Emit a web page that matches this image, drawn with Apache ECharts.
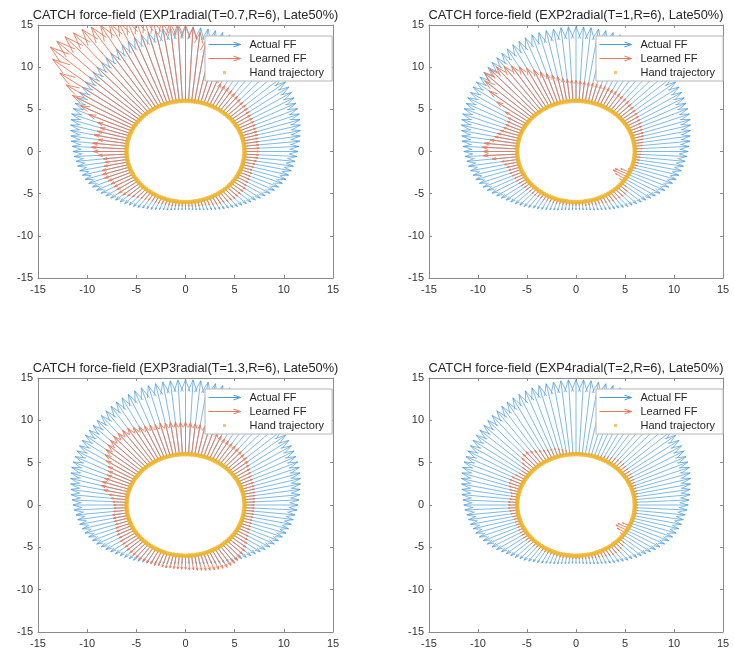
<!DOCTYPE html>
<html><head><meta charset="utf-8">
<script src="https://cdn.jsdelivr.net/npm/echarts@6/dist/echarts.min.js"></script>
<style>html,body{margin:0;padding:0;background:#fff}#c{width:734px;height:655px}</style>
</head><body><div id="c"></div>
<script>
// Arrow origins: hand trajectory sampled every 3 degrees on a circle of radius 6
const angleDeg = [
  0,3,6,9,12,15,18,21,24,27,
  30,33,36,39,42,45,48,51,54,57,
  60,63,66,69,72,75,78,81,84,87,
  90,93,96,99,102,105,108,111,114,117,
  120,123,126,129,132,135,138,141,144,147,
  150,153,156,159,162,165,168,171,174,177,
  180,183,186,189,192,195,198,201,204,207,
  210,213,216,219,222,225,228,231,234,237,
  240,243,246,249,252,255,258,261,264,267,
  270,273,276,279,282,285,288,291,294,297,
  300,303,306,309,312,315,318,321,324,327,
  330,333,336,339,342,345,348,351,354,357
];
const trajectoryRadius = 6;

// Radial force magnitude (arrow length) of the actual field, per angle
const actualFF = [
  5.45,5.55,5.7,5.8,5.95,6.1,6.25,6.4,6.5,6.6,
  6.75,6.85,7.0,7.1,7.2,7.3,7.45,7.6,7.75,7.9,
  8.05,8.2,8.3,8.45,8.55,8.6,8.65,8.7,8.75,8.8,
  8.8,8.8,8.75,8.7,8.65,8.6,8.55,8.45,8.3,8.2,
  8.05,7.9,7.75,7.6,7.45,7.3,7.2,7.1,7.0,6.85,
  6.75,6.6,6.5,6.4,6.25,6.1,5.95,5.8,5.7,5.55,
  5.45,5.35,5.2,5.1,5.0,4.85,4.75,4.55,4.35,4.15,
  3.9,3.65,3.4,3.15,2.95,2.75,2.55,2.4,2.2,2.0,
  1.85,1.7,1.55,1.4,1.3,1.2,1.1,1.0,0.95,0.9,
  0.9,0.9,0.95,1.0,1.1,1.2,1.3,1.4,1.55,1.7,
  1.85,2.0,2.2,2.4,2.55,2.75,2.95,3.15,3.4,3.65,
  3.9,4.15,4.35,4.55,4.75,4.85,5.0,5.1,5.2,5.35
];

// Learned field magnitudes, per experiment
const learnedEXP1 = [
  1.5,1.5,1.5,1.5,1.55,1.6,1.65,1.7,1.75,1.8,
  1.85,1.9,2.0,2.1,2.2,2.25,2.3,2.4,2.5,2.6,
  2.7,2.75,2.8,3.3,4.2,5.2,6.3,7.3,8.2,8.7,
  9.0,9.2,9.4,9.7,10.0,10.3,10.5,10.7,10.9,11.1,
  11.3,11.6,11.9,12.1,12.3,12.5,12.5,11.4,9.8,8.5,
  7.3,6.0,4.8,3.6,3.1,3.3,3.5,3.0,3.5,3.6,
  3.4,2.9,2.4,2.3,2.5,2.8,2.9,2.8,2.6,2.5,
  2.4,2.3,2.4,2.2,1.9,1.6,1.35,1.15,1.0,0.9,
  0.8,0.75,0.7,0.65,0.6,0.6,0.6,0.55,0.5,0.5,
  0.5,0.5,0.55,0.6,0.6,0.65,0.7,0.8,0.9,1.0,
  1.1,1.2,1.3,1.4,1.5,1.5,1.5,1.5,1.5,1.4,
  1.3,1.3,1.2,1.2,1.1,1.15,1.2,1.3,1.4,1.45
];
const learnedEXP2 = [
  0.7,0.8,0.85,0.9,1.0,1.1,1.2,1.25,1.35,1.45,
  1.5,1.6,1.7,1.75,1.85,1.9,2.0,2.05,2.1,2.15,
  2.2,2.2,2.25,2.25,2.25,2.25,2.3,2.3,2.35,2.4,
  2.45,2.5,2.6,2.8,3.1,3.4,3.7,4.1,4.6,5.1,
  5.6,6.1,6.5,6.9,7.1,7.2,6.5,5.4,4.0,2.6,
  2.0,1.9,1.8,1.9,2.1,2.3,2.5,2.9,3.4,3.6,
  3.5,3.5,2.6,1.7,1.5,1.3,1.2,1.2,1.1,1.0,
  1.0,0.9,0.9,0.8,0.8,0.7,0.7,0.7,0.6,0.6,
  0.6,0.5,0.5,0.5,0.5,0.4,0.4,0.4,0.4,0.4,
  0.4,0.4,0.4,0.5,0.5,0.5,0.6,0.6,0.7,0.8,
  0.9,1.0,1.0,1.1,1.1,1.1,1.0,0.6,-0.5,-1.2,
  -1.6,-1.5,-1.0,-0.3,0.4,0.5,0.5,0.55,0.6,0.65
];
const learnedEXP3 = [
  1.0,1.05,1.1,1.15,1.2,1.25,1.3,1.4,1.45,1.5,
  1.65,1.8,2.0,2.2,2.35,2.4,2.5,2.55,2.6,2.65,
  2.7,2.75,2.9,3.1,3.3,3.4,3.5,3.6,3.7,3.75,
  3.8,3.8,3.85,3.9,3.9,4.0,4.0,4.1,4.2,4.4,
  4.6,4.8,4.9,4.9,4.9,4.8,4.6,4.4,4.1,3.6,
  3.1,2.8,2.7,2.8,2.9,2.9,2.5,1.9,1.6,1.4,
  1.3,1.3,1.4,1.5,1.5,1.5,1.5,1.6,1.7,1.8,
  1.8,1.9,1.9,1.9,2.0,2.0,2.0,2.0,2.0,1.9,
  1.9,1.8,1.8,1.7,1.7,1.7,1.6,1.6,1.6,1.6,
  1.6,1.7,1.7,1.8,1.9,2.0,2.1,2.2,2.3,2.4,
  2.5,2.5,2.5,2.4,2.3,2.2,2.1,1.9,1.7,1.5,
  1.35,1.25,1.15,1.1,1.1,1.0,1.0,1.0,1.0,1.0
];
const learnedEXP4 = [
  0.3,0.3,0.3,0.35,0.4,0.4,0.45,0.5,0.55,0.6,
  0.65,0.7,0.75,0.8,0.85,0.9,0.9,0.85,0.8,0.7,
  0.6,0.5,0.4,0.3,0.25,0.2,0.2,0.2,0.2,0.2,
  0.2,0.25,0.3,0.5,0.7,0.9,1.0,1.1,1.2,1.3,
  1.5,1.7,1.9,2.1,2.1,1.8,1.4,1.0,0.8,0.9,
  1.1,1.3,1.4,1.3,1.2,1.0,0.8,0.7,0.8,0.9,
  0.9,0.9,0.8,0.7,0.6,0.55,0.5,0.5,0.5,0.55,
  0.6,0.6,0.6,0.55,0.5,0.5,0.45,0.45,0.4,0.4,
  0.4,0.4,0.4,0.35,0.35,0.35,0.35,0.35,0.35,0.35,
  0.35,0.35,0.4,0.4,0.45,0.5,0.55,0.6,0.7,0.8,
  0.9,1.0,1.0,1.0,0.9,0.8,0.6,0.3,-0.4,-1.0,
  -1.3,-1.2,-0.8,-0.2,0.2,0.25,0.25,0.3,0.3,0.3
];

const titles = [
  'CATCH force-field (EXP1radial(T=0.7,R=6), Late50%)',
  'CATCH force-field (EXP2radial(T=1,R=6), Late50%)',
  'CATCH force-field (EXP3radial(T=1.3,R=6), Late50%)',
  'CATCH force-field (EXP4radial(T=2,R=6), Late50%)'
];
const learnedSets = [learnedEXP1, learnedEXP2, learnedEXP3, learnedEXP4];
const seriesNames = ['Actual FF', 'Learned FF', 'Hand trajectory'];

const FONT = '"Liberation Sans", Arial, Helvetica, sans-serif';
const BLUE = '#0072BD', RED = '#D95319', GOLD = '#EDB120';
const BLUE_LINE = '#4b9bd8', RED_LINE = '#e8795a';
const AXC = '#8a8a8a';

const grids = [
  {left: 38, top: 25, width: 295, height: 253},
  {left: 429, top: 25, width: 294, height: 253},
  {left: 38, top: 378, width: 295, height: 254},
  {left: 429, top: 378, width: 294, height: 254}
];

function arrowData(mags) {
  return angleDeg.map((a, i) => {
    const t = a * Math.PI / 180;
    const c = Math.cos(t), s = Math.sin(t);
    return [trajectoryRadius * c, trajectoryRadius * s, mags[i] * c, mags[i] * s];
  });
}
function handData() {
  return angleDeg.map(a => {
    const t = a * Math.PI / 180;
    return [trajectoryRadius * Math.cos(t), trajectoryRadius * Math.sin(t)];
  });
}
function makeRender(color, width) {
  const alpha = 0.16, beta = 0.33;
  return function (params, api) {
    const x0 = api.value(0), y0 = api.value(1), u = api.value(2), v = api.value(3);
    const x1 = x0 + u, y1 = y0 + v;
    const hl = [x1 - alpha * (u + beta * v), y1 - alpha * (v - beta * u)];
    const hr = [x1 - alpha * (u - beta * v), y1 - alpha * (v + beta * u)];
    const p0 = api.coord([x0, y0]), p1 = api.coord([x1, y1]);
    const pl = api.coord(hl), pr = api.coord(hr);
    return {
      type: 'group',
      children: [
        {type: 'line', shape: {x1: p0[0], y1: p0[1], x2: p1[0], y2: p1[1]},
          style: {stroke: color, lineWidth: width}},
        {type: 'polyline', shape: {points: [pl, p1, pr]},
          style: {stroke: color, lineWidth: width, fill: null}}
      ]
    };
  };
}

const arrowIcon = 'path://M0 4 L32 4 M25 1.6 L32 4 L25 6.4';
const dotIcon = 'path://M0 0 M32 8 M14.6 2.6 L17.4 2.6 L17.4 5.4 L14.6 5.4 Z';

const option = {
  animation: false,
  backgroundColor: '#fff',
  title: [], grid: [], xAxis: [], yAxis: [], legend: [], series: []
};

grids.forEach((g, i) => {
  option.grid.push({left: g.left, top: g.top, width: g.width, height: g.height, containLabel: false});
  option.title.push({
    text: titles[i], left: g.left + g.width / 2, top: g.top - 16, textAlign: 'center', padding: 0,
    textStyle: {fontSize: 12.8, fontWeight: 'normal', color: '#262626', fontFamily: FONT}
  });
  const baseAxis = {
    gridIndex: i, type: 'value', min: -15, max: 15, interval: 5,
    axisLine: {show: true, onZero: false, lineStyle: {color: AXC, width: 1}},
    axisTick: {show: true, inside: true, length: 3, lineStyle: {color: AXC, width: 1}},
    splitLine: {show: false}
  };
  option.xAxis.push(Object.assign({}, baseAxis, {
    position: 'bottom',
    axisLabel: {color: '#333', fontSize: 11, margin: 6, fontFamily: FONT}
  }));
  option.xAxis.push(Object.assign({}, baseAxis, {position: 'top', axisLabel: {show: false}}));
  option.yAxis.push(Object.assign({}, baseAxis, {
    position: 'left',
    axisLabel: {color: '#333', fontSize: 11, margin: 5, fontFamily: FONT}
  }));
  option.yAxis.push(Object.assign({}, baseAxis, {position: 'right', axisLabel: {show: false}}));

  const xi = i * 2, yi = i * 2;
  option.series.push({
    name: seriesNames[0], type: 'custom', xAxisIndex: xi, yAxisIndex: yi, clip: true,
    renderItem: makeRender(BLUE_LINE, 0.7), itemStyle: {color: BLUE},
    dimensions: ['x', 'y', 'u', 'v'], encode: {x: 0, y: 1},
    data: arrowData(actualFF), silent: true, z: 2
  });
  option.series.push({
    name: seriesNames[1], type: 'custom', xAxisIndex: xi, yAxisIndex: yi, clip: true,
    renderItem: makeRender(RED_LINE, 0.9), itemStyle: {color: RED},
    dimensions: ['x', 'y', 'u', 'v'], encode: {x: 0, y: 1},
    data: arrowData(learnedSets[i]), silent: true, z: 3
  });
  option.series.push({
    name: seriesNames[2], type: 'scatter', xAxisIndex: xi, yAxisIndex: yi,
    symbol: 'circle', symbolSize: 4.8, itemStyle: {color: GOLD},
    data: handData(), silent: true, z: 4
  });

  option.legend.push({
    left: g.left + 167, top: g.top + 11, orient: 'vertical',
    itemWidth: 32, itemHeight: 8, itemGap: 3, padding: [3, 8, 3, 3],
    backgroundColor: '#fff', borderColor: '#b5b5b5', borderWidth: 1,
    selectedMode: false, z: 10,
    textStyle: {fontSize: 11, color: '#262626', fontFamily: FONT, padding: [0, 0, 0, 4]},
    data: [
      {name: seriesNames[0], icon: arrowIcon, itemStyle: {color: 'rgba(0,0,0,0)', borderColor: BLUE_LINE, borderWidth: 1}},
      {name: seriesNames[1], icon: arrowIcon, itemStyle: {color: 'rgba(0,0,0,0)', borderColor: RED_LINE, borderWidth: 1}},
      {name: seriesNames[2], icon: dotIcon, itemStyle: {color: GOLD, borderWidth: 0}}
    ]
  });
});

const chart = echarts.init(document.getElementById('c'), null, {renderer: 'canvas'});
chart.setOption(option);
</script>
</body></html>
